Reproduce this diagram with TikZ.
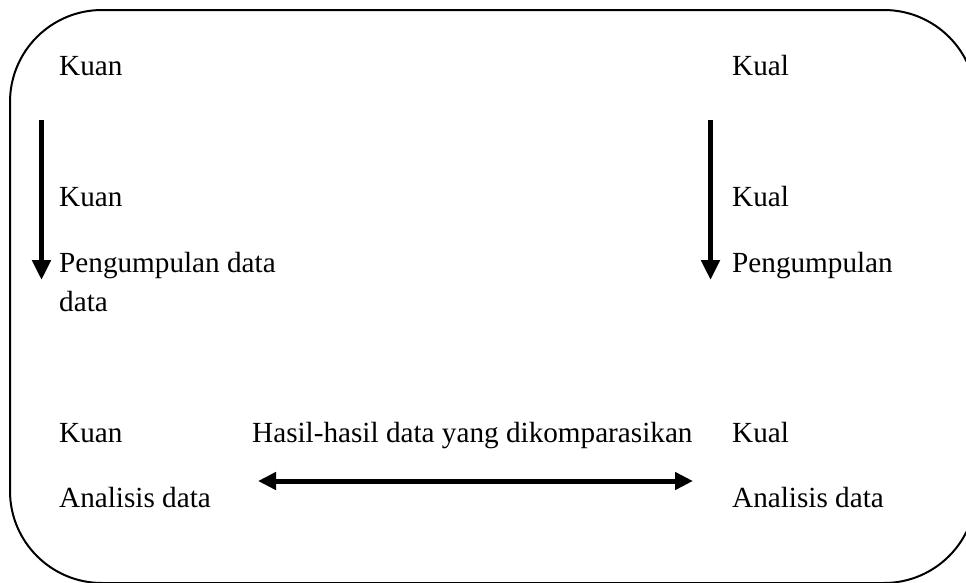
\documentclass[tikz,border=0pt]{standalone}
\usepackage{fontspec}
\setmainfont{Liberation Serif}
\usetikzlibrary{arrows.meta}
\tikzset{
  lbl/.style={anchor=base west, inner sep=0pt, font=\fontsize{29.2}{35}\selectfont},
  flow/.style={line width=5pt, -{Triangle[length=20pt,width=18pt]}},
  both/.style={line width=5pt, {Triangle[length=18pt,width=17pt]}-{Triangle[length=18pt,width=17pt]}},
  frame/.style={draw, line width=2pt}
}
\begin{document}
\begin{tikzpicture}[x=1pt,y=-1pt]
\useasboundingbox (0,0) rectangle (966,582);
\clip (0,0) rectangle (966,582);
\draw[frame] (976,102) arc[start angle=0, end angle=-90, radius=92]
  -- (102,10) arc[start angle=-90, end angle=-180, radius=92]
  -- (10,491) arc[start angle=180, end angle=90, radius=92]
  -- (884,583) arc[start angle=90, end angle=0, radius=92];
% top labels
\node[lbl] (kuan1) at (59,75) {Kuan};
\node[lbl] (kual1) at (732,75) {Kual};
% middle labels
\node[lbl] (kuan2) at (59,206) {Kuan};
\node[lbl] (kuanp) at (59,272) {Pengumpulan data};
\node[lbl] (kuand) at (59,311) {data};
\node[lbl] (kual2) at (732,206) {Kual};
\node[lbl] (kualp) at (732,272) {Pengumpulan};
% bottom labels
\node[lbl] (kuan3) at (59,442) {Kuan};
\node[lbl] (kuana) at (59,507) {Analisis data};
\node[lbl] (hasil) at (252,442) {Hasil-hasil data yang dikomparasikan};
\node[lbl] (kual3) at (732,442) {Kual};
\node[lbl] (kuala) at (732,507) {Analisis data};
% arrow end points
\coordinate (la) at (41.5,120);
\coordinate (lb) at (41.5,280);
\coordinate (ra) at (710.5,120);
\coordinate (rb) at (710.5,280);
\coordinate (ha) at (258,481);
\coordinate (hb) at (693,481);
\draw[flow] (la) -- (lb);
\draw[flow] (ra) -- (rb);
\draw[both] (ha) -- (hb);
\end{tikzpicture}
\end{document}
